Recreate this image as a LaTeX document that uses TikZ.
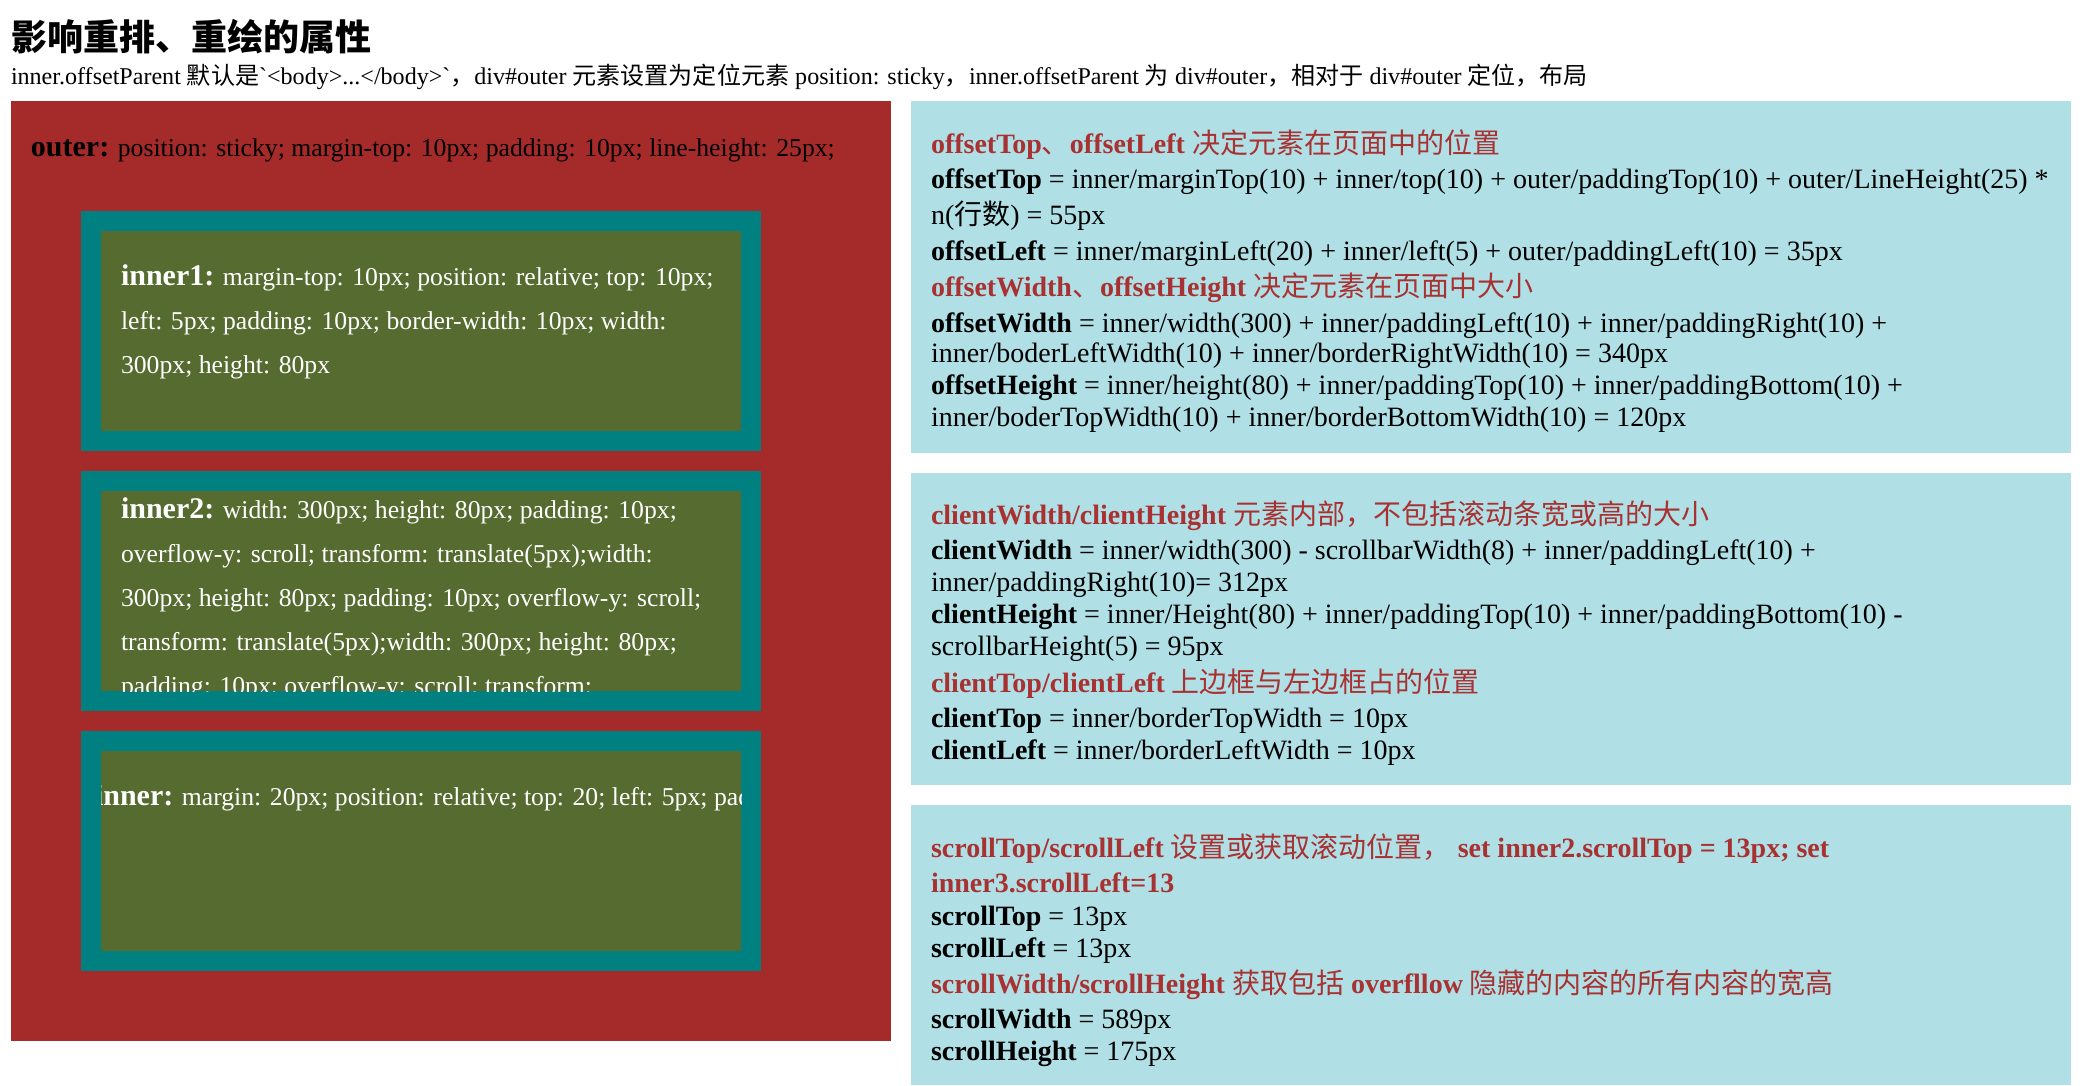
\documentclass[tikz,border=0pt]{standalone}
\usepackage{fontspec}
\setmainfont{Liberation Serif}
\newfontfamily\cjk{Noto Sans CJK SC}
\usetikzlibrary{positioning}

\definecolor{outerred}{HTML}{A52A2A}
\definecolor{borderteal}{HTML}{008080}
\definecolor{innerolive}{HTML}{556B2F}
\definecolor{panelblue}{HTML}{B0E0E6}
\definecolor{headred}{HTML}{A83232}

\newcommand{\zh}[1]{{\cjk\mdseries #1}}
\newcommand{\leftsize}{\fontsize{12.85}{15}\selectfont}
\newcommand{\labsize}{\fontsize{15}{17}\selectfont\bfseries}
\newcommand{\rightsize}{\fontsize{14}{16}\selectfont}

\begin{document}
\begin{tikzpicture}[x=0.5pt, y=-0.5pt,
    txt/.style={anchor=base west, inner sep=0pt, outer sep=0pt},
    boxtxt/.style={txt, text=white, font=\leftsize},
    infotxt/.style={txt, font=\rightsize},
    headtxt/.style={txt, font=\rightsize\bfseries, text=headred}]

    \useasboundingbox (0,0) rectangle (2093,1086);

    % title and intro
    \node [txt, font=\fontsize{18}{20}\selectfont] (title) at (11,51) {\cjk\bfseries 影响重排、重绘的属性};
    \node [txt, font=\fontsize{12.03}{14}\selectfont] (intro) at (11,85) {inner.offsetParent \zh{默认是}\textasciigrave<body>...</body>\textasciigrave\zh{，}div\#outer \zh{元素设置为定位元素} position: sticky\zh{，}inner.offsetParent \zh{为} div\#outer\zh{，相对于} div\#outer \zh{定位，布局}};

    % outer box with the three inner boxes
    \fill [outerred] (11,101) rectangle (891,1041);
    \fill [borderteal] (81,211) rectangle (761,451);
    \fill [innerolive] (101,231) rectangle (741,431);
    \fill [borderteal] (81,471) rectangle (761,711);
    \fill [innerolive] (101,491) rectangle (741,691);
    \fill [borderteal] (81,731) rectangle (761,971);
    \fill [innerolive] (101,751) rectangle (741,951);

    \node [txt, font=\leftsize] (outerline) at (31,156) {{\labsize outer:} position: sticky; margin-top: 10px; padding: 10px; line-height: 25px;};

    \node [boxtxt] (inner1a) at (121,285) {{\labsize inner1:} margin-top: 10px; position: relative; top: 10px;};
    \node [boxtxt] (inner1b) at (121,329) {left: 5px; padding: 10px; border-width: 10px; width:};
    \node [boxtxt] (inner1c) at (121,373) {300px; height: 80px};

    % inner2 is scrolled down, inner3 is scrolled left
    \begin{scope}
        \clip (101,491) rectangle (741,691);
        \node [boxtxt] (inner2a) at (121,518) {{\labsize inner2:} width: 300px; height: 80px; padding: 10px;};
        \node [boxtxt] (inner2b) at (121,562) {overflow-y: scroll; transform: translate(5px);width:};
        \node [boxtxt] (inner2c) at (121,606) {300px; height: 80px; padding: 10px; overflow-y: scroll;};
        \node [boxtxt] (inner2d) at (121,650) {transform: translate(5px);width: 300px; height: 80px;};
        \node [boxtxt] (inner2e) at (121,694) {padding: 10px; overflow-y: scroll; transform:};
    \end{scope}
    \begin{scope}
        \clip (101,751) rectangle (741,951);
        \node [boxtxt] (inner3a) at (95,805) {{\labsize inner:} margin: 20px; position: relative; top: 20; left: 5px; padding: 10px;};
    \end{scope}

    % offset panel
    \fill [panelblue] (911,101) rectangle (2071,453);
    \node [headtxt] (offhead1) at (931,154) {offsetTop\zh{、}offsetLeft \zh{决定元素在页面中的位置}};
    \node [infotxt] (offtop1) at (931,188) {\textbf{offsetTop} = inner/marginTop(10) + inner/top(10) + outer/paddingTop(10) + outer/LineHeight(25) *};
    \node [infotxt] (offtop2) at (931,224) {n(\zh{行数}) = 55px};
    \node [infotxt] (offleft) at (931,260) {\textbf{offsetLeft} = inner/marginLeft(20) + inner/left(5) + outer/paddingLeft(10) = 35px};
    \node [headtxt] (offhead2) at (931,296) {offsetWidth\zh{、}offsetHeight \zh{决定元素在页面中大小}};
    \node [infotxt] (offwidth1) at (931,332) {\textbf{offsetWidth} = inner/width(300) + inner/paddingLeft(10) + inner/paddingRight(10) +};
    \node [infotxt] (offwidth2) at (931,362) {inner/boderLeftWidth(10) + inner/borderRightWidth(10) = 340px};
    \node [infotxt] (offheight1) at (931,394) {\textbf{offsetHeight} = inner/height(80) + inner/paddingTop(10) + inner/paddingBottom(10) +};
    \node [infotxt] (offheight2) at (931,426) {inner/boderTopWidth(10) + inner/borderBottomWidth(10) = 120px};

    % client panel
    \fill [panelblue] (911,473) rectangle (2071,785);
    \node [headtxt] (clihead1) at (931,524) {clientWidth/clientHeight \zh{元素内部，不包括滚动条宽或高的大小}};
    \node [infotxt] (cliwidth1) at (931,559) {\textbf{clientWidth} = inner/width(300) - scrollbarWidth(8) + inner/paddingLeft(10) +};
    \node [infotxt] (cliwidth2) at (931,591) {inner/paddingRight(10)= 312px};
    \node [infotxt] (cliheight1) at (931,623) {\textbf{clientHeight} = inner/Height(80) + inner/paddingTop(10) + inner/paddingBottom(10) -};
    \node [infotxt] (cliheight2) at (931,655) {scrollbarHeight(5) = 95px};
    \node [headtxt] (clihead2) at (931,692) {clientTop/clientLeft \zh{上边框与左边框占的位置}};
    \node [infotxt] (clitop) at (931,727) {\textbf{clientTop} = inner/borderTopWidth = 10px};
    \node [infotxt] (clileft) at (931,759) {\textbf{clientLeft} = inner/borderLeftWidth = 10px};

    % scroll panel
    \fill [panelblue] (911,805) rectangle (2071,1085);
    \node [headtxt] (scrhead1) at (931,857) {scrollTop/scrollLeft \zh{设置或获取滚动位置，} set inner2.scrollTop = 13px; set};
    \node [headtxt] (scrhead1b) at (931,892) {inner3.scrollLeft=13};
    \node [infotxt] (scrtop) at (931,925) {\textbf{scrollTop} = 13px};
    \node [infotxt] (scrleft) at (931,957) {\textbf{scrollLeft} = 13px};
    \node [headtxt] (scrhead2) at (931,993) {scrollWidth/scrollHeight \zh{获取包括} overfllow \zh{隐藏的内容的所有内容的宽高}};
    \node [infotxt] (scrwidth) at (931,1028) {\textbf{scrollWidth} = 589px};
    \node [infotxt] (scrheight) at (931,1060) {\textbf{scrollHeight} = 175px};
\end{tikzpicture}
\end{document}
